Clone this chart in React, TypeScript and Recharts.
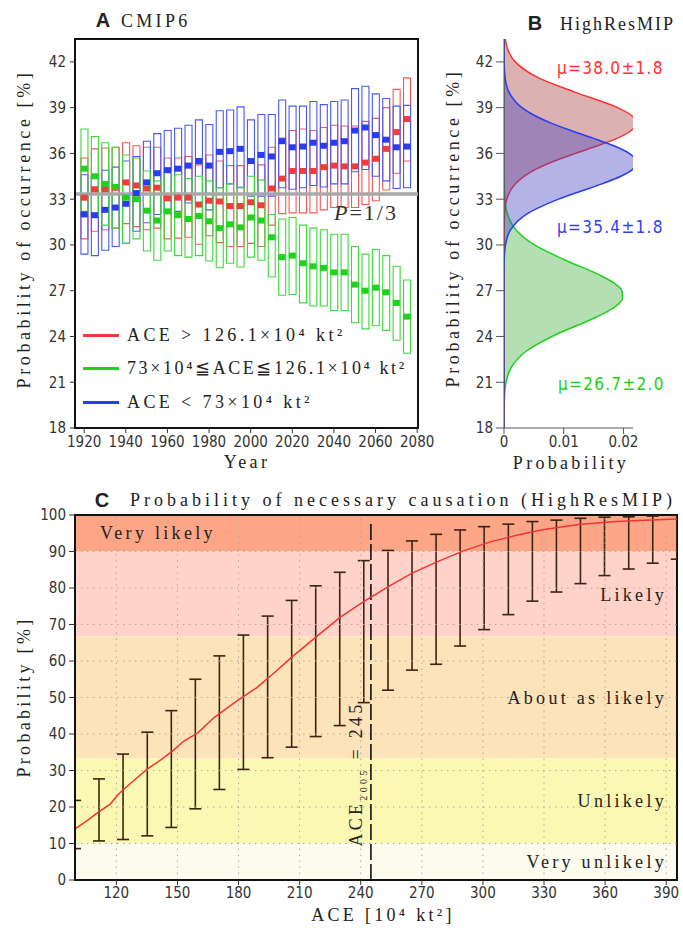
import React from "react";
import {
  ComposedChart,
  Bar,
  Line,
  Area,
  XAxis,
  YAxis,
  ReferenceLine,
  ReferenceArea,
} from "recharts";

const SERIF = "'Liberation Serif', 'DejaVu Serif', serif";
const SANS = "'Liberation Sans Narrow', 'DejaVu Sans Condensed', 'Liberation Sans', sans-serif";
const BOLD = "'Liberation Sans', Arial, sans-serif";

const RED = "#f03c3c";
const GREEN = "#1ed21e";
const BLUE = "#2a3cf0";
const TICK = { fill: "#333", fontSize: 15, fontFamily: SANS };

// ---- panel A: CMIP6 ranges per 5-year window ----
const years = [
  1920, 1925, 1930, 1935, 1940, 1945, 1950, 1955, 1960, 1965, 1970, 1975, 1980, 1985, 1990, 1995,
  2000, 2005, 2010, 2015, 2020, 2025, 2030, 2035, 2040, 2045, 2050, 2055, 2060, 2065, 2070, 2075,
];
const redLow = [
  30.4, 30.9, 31.0, 31.1, 31.4, 31.2, 31.0, 31.1, 30.4, 30.45, 30.5, 30.05, 30.6, 30.15, 29.9, 29.9,
  30.1, 29.9, 31.3, 32.05, 32.1, 32.1, 32.1, 32.3, 32.45, 32.45, 32.45, 32.65, 32.9, 33.6, 34.7, 35.5,
];
const redHigh = [
  35.7, 36.3, 36.35, 36.4, 36.7, 36.5, 36.4, 36.4, 35.7, 35.7, 35.8, 35.25, 35.9, 35.5, 35.2, 35.2,
  35.4, 35.25, 36.4, 37.0, 37.5, 37.6, 37.5, 37.7, 37.85, 37.8, 37.8, 38.1, 38.3, 39.0, 40.2, 40.95,
];
const redMean = [
  33.1, 33.65, 33.65, 33.75, 34.1, 33.9, 33.7, 33.75, 33.05, 33.1, 33.1, 32.65, 32.9, 32.85, 32.55, 32.55,
  32.8, 32.6, 33.7, 34.35, 34.85, 34.85, 34.85, 35.1, 35.2, 35.15, 35.15, 35.4, 35.65, 36.3, 37.4, 38.25,
];
const greenLow = [
  32.2, 31.9, 31.3, 31.1, 30.1, 30.4, 29.6, 29.0, 29.6, 29.3, 29.2, 29.3, 28.95, 28.5, 28.8, 28.55,
  29.2, 29.0, 27.9, 26.7, 26.75, 26.2, 26.0, 26.0, 25.7, 25.7, 24.9, 24.5, 24.7, 24.4, 23.75, 22.9,
];
const greenHigh = [
  37.6, 37.1, 36.7, 36.4, 35.9, 35.7, 34.85, 34.2, 34.8, 34.6, 34.35, 34.5, 34.2, 33.75, 34.0, 33.8,
  34.5, 34.25, 32.0, 31.7, 31.8, 31.3, 31.1, 31.0, 30.7, 30.7, 29.9, 29.4, 29.7, 29.3, 28.6, 27.7,
];
const greenMean = [
  35.0, 34.5, 34.0, 33.8, 33.1, 33.0, 32.25, 31.6, 32.2, 31.95, 31.7, 31.9, 31.55, 31.1, 31.35, 31.15,
  31.8, 31.6, 30.5, 29.2, 29.3, 28.8, 28.6, 28.5, 28.2, 28.2, 27.4, 27.0, 27.2, 26.9, 26.2, 25.3,
];
const blueLow = [
  29.4, 29.3, 29.65, 29.9, 30.1, 30.9, 31.45, 32.0, 32.1, 32.2, 32.75, 32.75, 32.3, 33.75, 34.0, 33.75,
  33.2, 33.2, 33.2, 33.75, 33.65, 33.75, 33.9, 33.8, 34.0, 34.0, 34.8, 34.95, 34.5, 34.2, 33.7, 33.75,
];
const blueHigh = [
  34.6, 34.5, 34.9, 35.1, 35.5, 35.8, 36.8, 37.3, 37.5, 37.65, 37.85, 38.2, 37.9, 38.8, 38.85, 39.05,
  38.2, 38.55, 38.55, 39.5, 39.1, 39.1, 39.4, 39.2, 39.4, 39.5, 40.25, 40.4, 39.9, 39.6, 39.1, 39.15,
];
const blueMean = [
  32.0, 31.95, 32.3, 32.45, 32.7, 33.4, 34.1, 34.7, 34.9, 35.0, 35.2, 35.5, 35.2, 36.1, 36.15, 36.3,
  35.5, 35.9, 35.8, 36.8, 36.4, 36.45, 36.7, 36.5, 36.7, 36.8, 37.5, 37.7, 37.2, 36.9, 36.4, 36.45,
];
const yearTicks = [1920, 1940, 1960, 1980, 2000, 2020, 2040, 2060, 2080];
const occTicks = [18, 21, 24, 27, 30, 33, 36, 39, 42];

const rowsA = years.map((year, i) => ({
  year,
  rLo: redLow[i], rHi: redHigh[i], rMean: redMean[i],
  gLo: greenLow[i], gHi: greenHigh[i], gMean: greenMean[i],
  bLo: blueLow[i], bHi: blueHigh[i], bMean: blueMean[i],
}));

// ---- panel B: HighResMIP distributions ----
const occLevels = [
  18, 19, 20, 21, 22, 23, 24, 25, 25.5, 26, 26.5, 27, 27.5, 28, 29, 30, 31, 32, 33, 34, 34.5, 35, 35.5,
  36, 36.5, 37, 37.5, 38, 38.5, 39, 40, 41, 42, 43, 43.5,
];
const redDens = [
  0, 0, 0, 0, 0, 0, 0, 0, 0, 0, 0, 0, 0, 0, 0, 0, 0.000012, 0.000086, 0.00047, 0.00188, 0.00335, 0.00553,
  0.00845, 0.01195, 0.01566, 0.019, 0.0213, 0.0222, 0.0213, 0.019, 0.01195, 0.00553, 0.00188, 0.00047, 0.00021,
];
const blueDens = [
  0, 0, 0, 0, 0, 0, 0, 0, 0, 0, 0, 0.000001, 0.000002, 0.000005, 0.00004, 0.00025, 0.00112, 0.00372, 0.00911,
  0.01638, 0.01956, 0.02162, 0.0221, 0.02096, 0.0184, 0.01493, 0.0112, 0.0078, 0.00503, 0.003, 0.00085,
  0.000175, 0.000027, 0.000003, 0.000001,
];
const greenDens = [
  0.000001, 0.000012, 0.000073, 0.00034, 0.00126, 0.0036, 0.00802, 0.0139, 0.01666, 0.01876, 0.01985,
  0.01973, 0.01842, 0.01616, 0.0103, 0.00511, 0.00198, 0.0006, 0.00014, 0.000025, 0.00001, 0.000003, 0, 0,
  0, 0, 0, 0, 0, 0, 0, 0, 0, 0, 0,
];
const densTicks = [0, 0.01, 0.02];

const rowsB = occLevels.map((y, i) => ({ y, red: redDens[i], blue: blueDens[i], green: greenDens[i] }));

// ---- panel C: probability of necessary causation ----
const binAce = [
  99.7, 111.5, 123.3, 135.2, 147.0, 158.8, 170.6, 182.4, 194.3, 206.1, 217.9, 229.7, 241.5, 253.4, 265.2,
  277.0, 288.8, 300.6, 312.5, 324.3, 336.1, 347.9, 359.7, 371.6, 383.4, 395.2,
];
const binLow = [
  8.6, 10.7, 11.1, 12.1, 14.4, 19.5, 24.8, 30.3, 33.5, 36.4, 39.3, 42.3, 48.6, 52.0, 57.5, 59.1, 64.1, 68.6,
  72.7, 76.4, 78.9, 81.2, 83.4, 85.2, 86.8, 87.9,
];
const binHigh = [
  21.8, 27.7, 34.5, 40.5, 46.4, 55.0, 61.4, 67.1, 72.3, 76.6, 80.6, 84.3, 87.5, 90.3, 92.9, 94.7, 95.9, 96.8,
  97.5, 98.2, 98.6, 99.1, 99.4, 99.5, 99.7, 99.9,
];
const curveAce = [
  99.7, 105, 111, 117, 121, 128, 135, 142, 148, 153, 160, 168, 178, 189, 197, 206, 219, 230, 242, 254, 265,
  278, 291, 304, 317, 330, 347, 365, 383, 395.3,
];
const curveProb = [
  14.0, 16.0, 18.5, 20.8, 23.5, 27.0, 30.3, 33.0, 35.5, 38.0, 40.3, 44.5, 48.6, 52.7, 56.5, 61.0, 67.0, 72.0,
  76.5, 80.5, 84.0, 87.3, 90.3, 92.7, 94.5, 96.0, 97.4, 98.2, 98.6, 98.9,
];
const aceTicks = [120, 150, 180, 210, 240, 270, 300, 330, 360, 390];
const probTicks = [0, 10, 20, 30, 40, 50, 60, 70, 80, 90, 100];
const bands = [
  { lo: 90, hi: 100, color: "#fca687", name: "Very likely" },
  { lo: 66.7, hi: 90, color: "#ffd2ca", name: "Likely" },
  { lo: 33.3, hi: 66.7, color: "#fde3b9", name: "About as likely" },
  { lo: 10, hi: 33.3, color: "#fbf8b4", name: "Unlikely" },
  { lo: 0, hi: 10, color: "#fbfbee", name: "Very unlikely" },
];

const rowsC = binAce.map((ace, i) => ({ ace, lo: binLow[i], hi: binHigh[i] }));
const rowsCurve = curveAce.map((ace, i) => ({ ace, p: curveProb[i] }));

const squareDot = (color: string) => (p: any) =>
  p.cx == null ? <g key={p.index} /> : (
    <rect key={p.index} x={p.cx - 3.5} y={p.cy - 3} width={7} height={6} fill={color} />
  );

function IBeam(p: any) {
  const top = Math.min(p.y, p.y + p.height);
  const bot = Math.max(p.y, p.y + p.height);
  const cx = p.x + (p.width || 0) / 2;
  return (
    <g stroke="#3b2410" strokeWidth={1.6}>
      <line x1={cx} x2={cx} y1={top} y2={bot} />
      <line x1={cx - 6} x2={cx + 6} y1={top} y2={top} />
      <line x1={cx - 6} x2={cx + 6} y1={bot} y2={bot} />
    </g>
  );
}

function Txt({
  x, y, children, size = 18, color = "#222", font = SERIF, rot = 0, align = "c", spacing = 3.3,
  weight = 400, italic = false,
}: any) {
  const tx = align === "c" ? "-50%" : align === "r" ? "-100%" : "0";
  return (
    <div
      style={{
        position: "absolute", left: x, top: y, whiteSpace: "pre", lineHeight: 1,
        transform: `translate(${tx}, -50%) rotate(${rot}deg)`,
        fontSize: size, color, fontFamily: font, letterSpacing: spacing,
        fontWeight: weight, fontStyle: italic ? "italic" : "normal",
      }}
    >
      {children}
    </div>
  );
}

function PanelA() {
  return (
    <ComposedChart width={440} height={480} data={rowsA} barGap={-7}
      margin={{ top: 39, right: 22, bottom: 0, left: 0 }}>
      <XAxis dataKey="year" type="number" domain={[1915.6, 2080.4]} allowDataOverflow interval={0}
        ticks={yearTicks} tick={TICK} tickSize={5} tickMargin={3} height={52}
        axisLine={{ stroke: "#111", strokeWidth: 2 }} tickLine={{ stroke: "#333" }} />
      <YAxis type="number" domain={[18, 43.5]} allowDataOverflow interval={0} ticks={occTicks} width={75} tick={TICK}
        tickSize={5} tickMargin={4} axisLine={{ stroke: "#111", strokeWidth: 2 }} tickLine={{ stroke: "#333" }} />
      <Bar dataKey={(d: any) => [d.rLo, d.rHi]} barSize={7} fill="none" stroke="#f25a5a"
        strokeWidth={1.1} isAnimationActive={false} />
      <Bar dataKey={(d: any) => [d.bLo, d.bHi]} barSize={7} fill="none" stroke="#4a5af2"
        strokeWidth={1.1} isAnimationActive={false} />
      <Bar dataKey={(d: any) => [d.gLo, d.gHi]} barSize={7} fill="none" stroke="#3ed83e"
        strokeWidth={1.1} isAnimationActive={false} />
      <ReferenceLine y={33.333} stroke="#a8a8a8" strokeWidth={3.5} />
      <Line dataKey="rMean" stroke="none" dot={squareDot(RED)} activeDot={false} isAnimationActive={false} />
      <Line dataKey="bMean" stroke="none" dot={squareDot(BLUE)} activeDot={false} isAnimationActive={false} />
      <Line dataKey="gMean" stroke="none" dot={squareDot(GREEN)} activeDot={false} isAnimationActive={false} />
      <ReferenceArea x1={1915.6} x2={2080.4} y1={18} y2={43.5} fill="none" fillOpacity={0}
        stroke="#111" strokeWidth={2} />
    </ComposedChart>
  );
}

function PanelB() {
  return (
    <ComposedChart layout="vertical" width={253} height={480} data={rowsB}
      margin={{ top: 39, right: 50, bottom: 0, left: 0 }}>
      <XAxis type="number" domain={[0, 0.0216]} allowDataOverflow ticks={densTicks} interval={0}
        tickFormatter={(v: number) => (v === 0 ? "0" : String(v))} tick={TICK} tickSize={6} tickMargin={2}
        height={52} axisLine={{ stroke: "#555" }} tickLine={{ stroke: "#555" }} />
      <YAxis type="number" dataKey="y" domain={[18, 43.5]} allowDataOverflow reversed ticks={occTicks} interval={0}
        width={74} tick={TICK} tickSize={8} tickMargin={3} axisLine={{ stroke: "#555" }} tickLine={{ stroke: "#555" }} />
      <Area dataKey="green" type="monotone" fill="#40b040" fillOpacity={0.4} stroke={GREEN} strokeWidth={1.5}
        isAnimationActive={false} dot={false} activeDot={false} />
      <Area dataKey="red" type="monotone" fill="#a83c3c" fillOpacity={0.4} stroke="#ff2e2e" strokeWidth={1.5}
        isAnimationActive={false} dot={false} activeDot={false} />
      <Area dataKey="blue" type="monotone" fill="#4040c0" fillOpacity={0.4} stroke={BLUE} strokeWidth={1.5}
        isAnimationActive={false} dot={false} activeDot={false} />
    </ComposedChart>
  );
}

function PanelC() {
  return (
    <ComposedChart width={683} height={453} data={rowsC} margin={{ top: 35, right: 6, bottom: 0, left: 0 }}>
      <XAxis dataKey="ace" type="number" domain={[99.7, 395.3]} allowDataOverflow ticks={aceTicks} interval={0}
        tick={TICK} tickSize={5} tickMargin={2} height={53} axisLine={{ stroke: "#111", strokeWidth: 2 }}
        tickLine={{ stroke: "#333" }} />
      <YAxis type="number" domain={[0, 100]} allowDataOverflow ticks={probTicks} interval={0} width={75} tick={TICK}
        tickSize={6} tickMargin={3} axisLine={{ stroke: "#111", strokeWidth: 2 }} tickLine={{ stroke: "#333" }} />
      {bands.map((b) => (
        <ReferenceArea key={b.name} y1={b.lo} y2={b.hi} fill={b.color} fillOpacity={1} stroke="none" />
      ))}
      {probTicks.slice(1, -1).map((v) => (
        <ReferenceLine key={"gy" + v} y={v} stroke="#b0a8a0" strokeDasharray="1.5 4.5" />
      ))}
      {aceTicks.map((v) => (
        <ReferenceLine key={"gx" + v} x={v} stroke="#b0a8a0" strokeDasharray="1.5 4.5" />
      ))}
      <Bar dataKey={(d: any) => [d.lo, d.hi]} barSize={12} shape={IBeam} isAnimationActive={false} />
      <ReferenceLine segment={[{ x: 245, y: 0 }, { x: 245, y: 97.6 }]} stroke="#111" strokeWidth={1.6}
        strokeDasharray="16 4" />
      <Line data={rowsCurve} dataKey="p" type="linear" stroke="#f23434" strokeWidth={1.5} dot={false}
        activeDot={false} isAnimationActive={false} />
      <ReferenceArea x1={99.7} x2={395.3} y1={0} y2={100} fill="none" fillOpacity={0} stroke="#111" strokeWidth={2} />
    </ComposedChart>
  );
}

export default function App() {
  return (
    <div style={{ position: "absolute", left: 0, top: 0, width: 683, height: 933, background: "#fff", overflow: "hidden" }}>
      <div style={{ position: "absolute", left: 0, top: 0 }}><PanelA /></div>
      <div style={{ position: "absolute", left: 430, top: 0 }}><PanelB /></div>
      <div style={{ position: "absolute", left: 0, top: 480 }}><PanelC /></div>

      {/* panel A text */}
      <Txt x={103} y={20} size={20} font={BOLD} weight={700} spacing={0}>A</Txt>
      <Txt x={121} y={21} align="l">CMIP6</Txt>
      <Txt x={24} y={229} rot={-90} spacing={3.6}>Probability of occurrence [%]</Txt>
      <Txt x={247} y={462}>Year</Txt>
      <Txt x={334} y={213} align="l" size={22} spacing={2} color="#333">
        <i>P</i>=1/3
      </Txt>
      {[
        { c: RED, y: 335, t: "ACE > 126.1×10⁴ kt²", s: 3.4 },
        { c: GREEN, y: 368, t: "73×10⁴≦ACE≦126.1×10⁴ kt²", s: 2.6 },
        { c: BLUE, y: 402, t: "ACE < 73×10⁴ kt²", s: 3.4 },
      ].map((l) => (
        <React.Fragment key={l.t}>
          <div style={{ position: "absolute", left: 83, top: l.y - 1.5, width: 36, height: 3, background: l.c }} />
          <Txt x={127} y={l.y} align="l" spacing={l.s}>{l.t}</Txt>
        </React.Fragment>
      ))}

      {/* panel B text */}
      <Txt x={535} y={23} size={20} font={BOLD} weight={700} spacing={0}>B</Txt>
      <Txt x={560} y={24} align="l" spacing={2}>HighResMIP</Txt>
      <Txt x={453} y={228} rot={-90} spacing={3.6}>Probability of occurrence [%]</Txt>
      <Txt x={571} y={463}>Probability</Txt>
      <Txt x={557} y={68} align="l" font={SANS} color="#ff3030" spacing={1.3} size={17}>μ=38.0±1.8</Txt>
      <Txt x={557} y={227} align="l" font={SANS} color="#3040f0" spacing={1.3} size={17}>μ=35.4±1.8</Txt>
      <Txt x={558} y={384} align="l" font={SANS} color="#20d020" spacing={1.3} size={17}>μ=26.7±2.0</Txt>

      {/* panel C text */}
      <Txt x={102} y={500} size={20} font={BOLD} weight={700} spacing={0}>C</Txt>
      <Txt x={130} y={500} align="l" spacing={4}>Probability of necessary causation (HighResMIP)</Txt>
      <Txt x={24} y={697} rot={-90}>Probability [%]</Txt>
      <Txt x={383} y={915}>ACE [10⁴ kt²]</Txt>
      <Txt x={100} y={533} align="l">Very likely</Txt>
      <Txt x={667} y={595} align="r">Likely</Txt>
      <Txt x={667} y={698} align="r">About as likely</Txt>
      <Txt x={667} y={801} align="r">Unlikely</Txt>
      <Txt x={667} y={862} align="r">Very unlikely</Txt>
      <Txt x={358} y={774} rot={-90}>
        ACE<sub style={{ fontSize: 10 }}>2005</sub> = 245
      </Txt>
    </div>
  );
}
